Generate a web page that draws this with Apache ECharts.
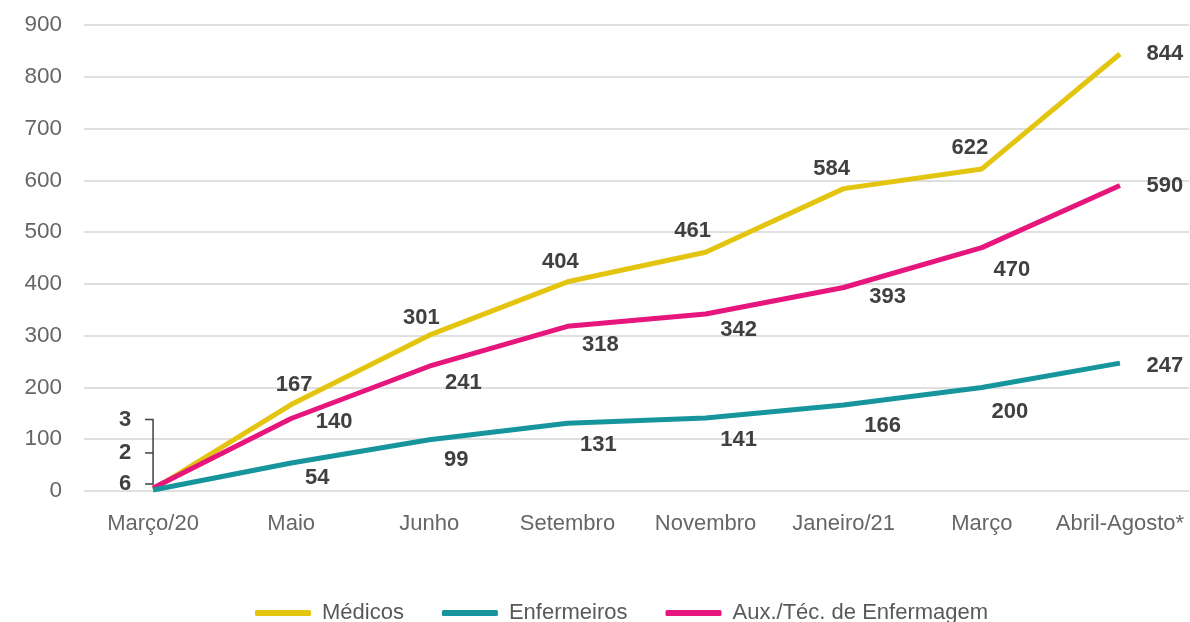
<!DOCTYPE html>
<html>
<head>
<meta charset="utf-8">
<script src="https://cdn.jsdelivr.net/npm/echarts@6/dist/echarts.min.js"></script>
<style>
  html, body { margin: 0; padding: 0; background: #fff; }
  #chart { width: 1190px; height: 622px; }
</style>
</head>
<body>
<div id="chart"></div>
<script>
const categories = ['Março/20', 'Maio', 'Junho', 'Setembro', 'Novembro', 'Janeiro/21', 'Março', 'Abril-Agosto*'];
const medicos = [3, 167, 301, 404, 461, 584, 622, 844];
const enfermeiros = [2, 54, 99, 131, 141, 166, 200, 247];
const auxTec = [6, 140, 241, 318, 342, 393, 470, 590];

// label offsets (px) from each point
const medicosOffsets = [[-28, -70], [3, -20], [-8, -17], [-7, -20], [-13, -21], [-12, -20], [-12, -21], [45, 0]];
const enfermeirosOffsets = [[-28, -37], [26, 15], [27, 20], [31, 22], [33, 22], [39, 21], [28, 24], [45, 3]];
const auxOffsets = [[-28, -4], [43, 3], [34, 17], [33, 19], [33, 16], [44, 9], [30, 22], [45, 0]];

const chart = echarts.init(document.getElementById('chart'));

const FONT = 'Liberation Sans, Arial, sans-serif';

function makeSeries(name, values, offsets, color) {
    return {
        name: name,
        type: 'line',
        symbol: 'circle',
        symbolSize: 0.1,
        showSymbol: true,
        lineStyle: { width: 5, color: color },
        itemStyle: { color: color },
        data: values.map(function (v, i) {
            return {
                value: v,
                label: { offset: offsets[i] }
            };
        }),
        label: {
            show: true,
            position: 'inside',
            align: 'center',
            verticalAlign: 'middle',
            fontFamily: FONT,
            fontSize: 22,
            fontWeight: 'bold',
            color: '#404040'
        },
        z: name === 'Enfermeiros' ? 4 : 3
    };
}

let option = {
    animation: false,
    grid: { left: 84, right: 1, top: 25, bottom: 131 },
    legend: {
        top: 597,
        left: 250,
        itemWidth: 56,
        itemHeight: 6,
        itemGap: 38,
        icon: 'roundRect',
        textStyle: {
            fontFamily: FONT,
            fontSize: 22,
            color: '#595959',
            padding: [0, 0, 0, 6]
        }
    },
    xAxis: {
        type: 'category',
        data: categories,
        axisLine: { show: false },
        axisTick: { show: false },
        axisLabel: {
            interval: 0,
            margin: 22,
            fontFamily: FONT,
            fontSize: 22,
            color: '#666666'
        }
    },
    yAxis: {
        type: 'value',
        min: 0,
        max: 900,
        interval: 100,
        axisLine: { show: false },
        axisTick: { show: false },
        splitLine: { lineStyle: { color: '#d4d4d4', width: 1.5 } },
        axisLabel: {
            margin: 22,
            fontFamily: FONT,
            fontSize: 22.5,
            color: '#666666'
        }
    },
    series: [
        makeSeries('Médicos', medicos, medicosOffsets, '#e3c50f'),
        makeSeries('Enfermeiros', enfermeiros, enfermeirosOffsets, '#16969c'),
        makeSeries('Aux./Téc. de Enfermagem', auxTec, auxOffsets, '#e6167d')
    ]
};

chart.setOption(option);

// bracket next to the first-month labels
const pM = chart.convertToPixel({ seriesIndex: 0 }, [0, medicos[0]]);
const pE = chart.convertToPixel({ seriesIndex: 1 }, [0, enfermeiros[0]]);
const pA = chart.convertToPixel({ seriesIndex: 2 }, [0, auxTec[0]]);
const y1 = pM[1] + medicosOffsets[0][1];
const y2 = pE[1] + enfermeirosOffsets[0][1];
const y3 = pA[1] + auxOffsets[0][1];
const bx = pM[0];
const tick = 8;
const bStyle = { stroke: '#404040', lineWidth: 1.5, fill: null };

chart.setOption({
    graphic: [
        { type: 'polyline', shape: { points: [[bx - tick, y1], [bx, y1], [bx, y3], [bx - tick, y3]] }, style: bStyle, z: 10 },
        { type: 'line', shape: { x1: bx - tick, y1: y2, x2: bx, y2: y2 }, style: bStyle, z: 10 }
    ]
});
</script>
</body>
</html>
